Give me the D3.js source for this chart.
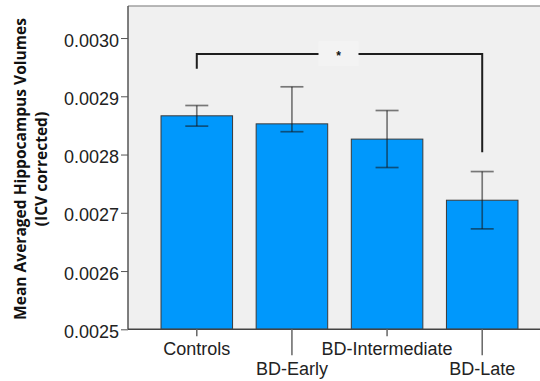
<!DOCTYPE html>
<html>
<head>
<meta charset="utf-8">
<script src="https://cdn.jsdelivr.net/npm/d3@7"></script>
<style>
  body { margin: 0; background: #fff; }
  svg { display: block; }
  .tick text { font-family: "Liberation Sans", Arial, sans-serif; fill: #222; }
</style>
</head>
<body>
<div id="chart"></div>
<script>

var groups = ['Controls', 'BD-Early', 'BD-Intermediate', 'BD-Late'];
var means = [0.0028665, 0.0028527, 0.0028265, 0.0027216];
var upper = [0.0028842, 0.0029163, 0.0028756, 0.0027708];
var lower = [0.0028488, 0.0028392, 0.0027777, 0.0026724];
var yTicks = [0.0025, 0.0026, 0.0027, 0.0028, 0.0029, 0.0030];

// significance bracket: Controls vs BD-Late
var bracketFrom = 'Controls';
var bracketTo = 'BD-Late';
var bracketTop = 0.0029725;
var bracketLeftEnd = 0.0029473;
var bracketRightEnd = 0.0028041;

var W = 540, H = 381;
var plotL = 128, plotT = 6, plotB = 329.3;

var svg = d3.select('#chart').append('svg')
  .attr('width', W).attr('height', H);

var y = d3.scaleLinear()
  .domain([0.0025, 0.003055])
  .range([plotB, plotT]);

var x = d3.scaleBand()
  .domain(groups)
  .range([plotL, 551])
  .paddingInner(0.248)
  .paddingOuter(0.347);

// Plot background.
svg.append('rect')
  .attr('x', plotL).attr('y', plotT)
  .attr('width', 560 - plotL).attr('height', plotB - plotT)
  .attr('fill', '#f0f0f0');

svg.append('line')
  .attr('x1', plotL).attr('x2', W)
  .attr('y1', plotT).attr('y2', plotT)
  .attr('stroke', '#a0a0a0').attr('stroke-width', 1.5);

// Bars.
svg.selectAll('rect.bar')
  .data(groups)
  .enter().append('rect')
  .attr('class', 'bar')
  .attr('x', function(d) { return x(d); })
  .attr('y', function(d, i) { return y(means[i]); })
  .attr('width', x.bandwidth())
  .attr('height', function(d, i) { return plotB - y(means[i]); })
  .attr('fill', '#0098fc')
  .attr('stroke', '#3a3a3a')
  .attr('stroke-width', 1);

// Error bars.
var eb = svg.append('g')
  .attr('stroke', 'rgba(20,20,20,0.55)')
  .attr('stroke-width', 1.7);

groups.forEach(function(g, i) {
  var cx = x(g) + x.bandwidth() / 2;
  eb.append('line')
    .attr('x1', cx).attr('x2', cx)
    .attr('y1', y(upper[i])).attr('y2', y(lower[i]));
  [upper[i], lower[i]].forEach(function(v) {
    eb.append('line')
      .attr('x1', cx - 11.5).attr('x2', cx + 11.5)
      .attr('y1', y(v)).attr('y2', y(v));
  });
});

// Significance bracket.
var bx1 = x(bracketFrom) + x.bandwidth() / 2;
var bx2 = x(bracketTo) + x.bandwidth() / 2;
var starX = (bx1 + bx2) / 2 - 1;

svg.append('rect')
  .attr('x', starX - 20).attr('y', y(bracketTop) - 13)
  .attr('width', 40).attr('height', 25)
  .attr('fill', '#f3f3f3');

var br = svg.append('g')
  .attr('fill', 'none')
  .attr('stroke', '#1e1e1e')
  .attr('stroke-width', 2);

br.append('path')
  .attr('d', d3.line()([
    [bx1, y(bracketLeftEnd)], [bx1, y(bracketTop)], [starX - 20, y(bracketTop)]
  ]));
br.append('path')
  .attr('d', d3.line()([
    [starX + 20, y(bracketTop)], [bx2, y(bracketTop)], [bx2, y(bracketRightEnd)]
  ]));

svg.append('text')
  .attr('x', starX).attr('y', y(bracketTop) + 6)
  .attr('text-anchor', 'middle')
  .attr('font-family', 'Liberation Sans, Arial, sans-serif')
  .attr('font-weight', 'bold')
  .attr('font-size', 12)
  .attr('fill', '#111')
  .text('*');

// Y axis.
var yAxis = svg.append('g')
  .attr('transform', 'translate(' + plotL + ',0)')
  .call(d3.axisLeft(y)
    .tickValues(yTicks)
    .tickFormat(d3.format('.4f'))
    .tickSize(7)
    .tickPadding(2));

yAxis.select('.domain')
  .attr('d', 'M0,' + plotT + 'V' + plotB)
  .attr('stroke', '#555').attr('stroke-width', 1.5);
yAxis.selectAll('.tick line').attr('stroke', '#555');
yAxis.selectAll('.tick text')
  .attr('font-size', 18)
  .attr('dy', '0.45em');

// X axis.
var xAxis = svg.append('g')
  .attr('transform', 'translate(0,' + plotB + ')')
  .call(d3.axisBottom(x).tickSizeOuter(0));

xAxis.select('.domain')
  .attr('d', 'M' + plotL + ',0H' + W)
  .attr('stroke', '#444').attr('stroke-width', 1.5);
xAxis.selectAll('.tick line')
  .attr('stroke', '#666').attr('stroke-width', 1.5)
  .attr('y2', function(d, i) { return i % 2 ? 26 : 7; });
xAxis.selectAll('.tick text')
  .attr('font-size', 18)
  .attr('dy', 0)
  .attr('y', function(d, i) { return i % 2 ? 46 : 26; });

// Y title.
var title = svg.append('text')
  .attr('transform', 'translate(0,169) rotate(-90)')
  .attr('text-anchor', 'middle')
  .attr('font-family', '"Open Sans", Lato, sans-serif')
  .attr('font-weight', 'bold')
  .attr('font-size', 15)
  .attr('fill', '#111');

var line1 = title.append('tspan').attr('x', 0).attr('y', 26)
  .text('Mean Averaged Hippocampus Volumes');
title.append('tspan').attr('x', 0).attr('y', 47)
  .text('(ICV corrected)');

// Fit the title to the length it has in the original (about 302px).
var len = line1.node().getComputedTextLength();
title.attr('font-size', 15 * 302 / len);

</script>
</body>
</html>
